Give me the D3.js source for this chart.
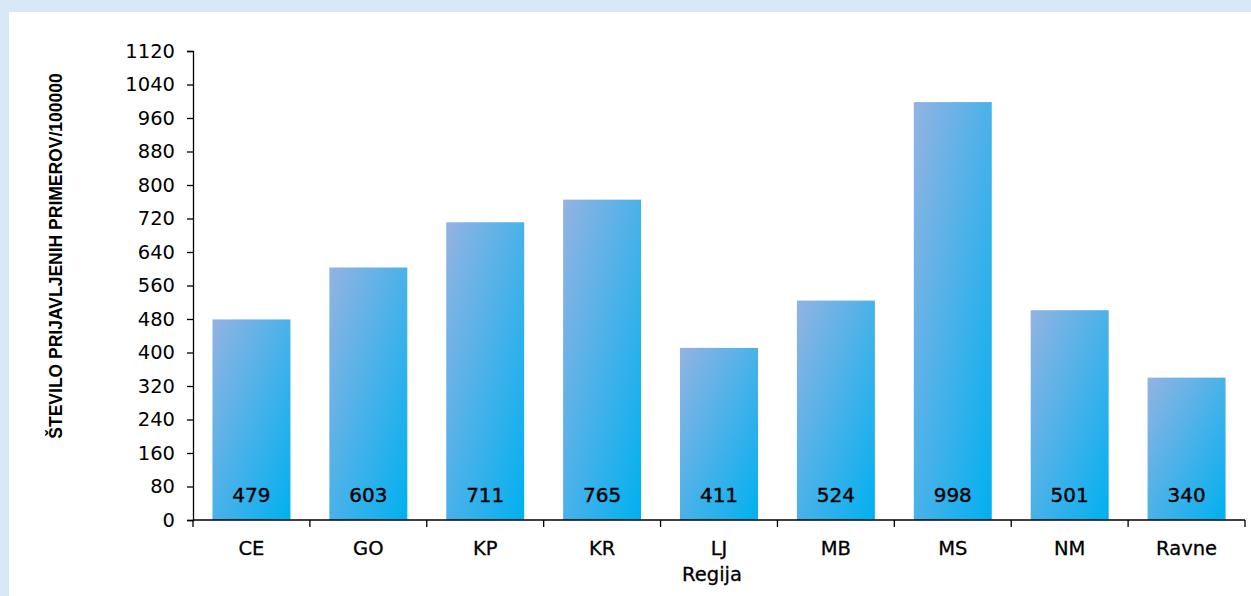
<!DOCTYPE html>
<html>
<head>
<meta charset="utf-8">
<script src="https://cdn.jsdelivr.net/npm/d3@7"></script>
<style>
  body { margin: 0; background: #d9e8f6; }
  svg { display: block; }
  .tick_label { font-family: Tahoma, "DejaVu Sans", sans-serif; font-size: 19.5px; fill: #000; }
  .val_label { font-family: Tahoma, "DejaVu Sans", sans-serif; font-size: 20px; fill: #000; stroke: #000; stroke-width: 0.4; }
</style>
</head>
<body>
<svg id="graph" width="1251" height="596"></svg>
<script>
let regions = ["CE", "GO", "KP", "KR", "LJ", "MB", "MS", "NM", "Ravne"];
let cases = [479, 603, 711, 765, 411, 524, 998, 501, 340];
let y_ticks = d3.range(0, 1121, 80);

let svg = d3.select("#graph");

let margin = {left: 193, right: 6, top: 51, bottom: 76};
let width = 1251, height = 596;

// light blue frame, white panel
svg.append("rect")
    .attr("x", 0).attr("y", 0)
    .attr("width", width).attr("height", height)
    .attr("fill", "#d9e8f6");
svg.append("rect")
    .attr("x", 9).attr("y", 12)
    .attr("width", width - 9).attr("height", height - 12)
    .attr("fill", "#fff");

let defs = svg.append("defs");
let grad = defs.append("linearGradient")
    .attr("id", "bar_grad")
    .attr("x1", "0").attr("y1", "0")
    .attr("x2", "1").attr("y2", "1");
grad.append("stop").attr("offset", "0%").attr("stop-color", "#93b3e2");
grad.append("stop").attr("offset", "100%").attr("stop-color", "#00b0f0");

let xScale = d3.scaleBand()
    .domain(regions)
    .range([margin.left, width - margin.right])
    .paddingInner(0.333)
    .paddingOuter(0.1665);

let yScale = d3.scaleLinear()
    .domain([0, 1120])
    .range([height - margin.bottom, margin.top]);

// bars
svg.append("g")
    .selectAll("rect")
    .data(cases)
    .enter()
    .append("rect")
    .attr("x", (d, i) => xScale(regions[i]))
    .attr("y", d => yScale(d))
    .attr("width", xScale.bandwidth())
    .attr("height", d => yScale(0) - yScale(d))
    .attr("fill", "url(#bar_grad)");

// value labels at the bar bottoms
svg.append("g")
    .selectAll("text")
    .data(cases)
    .enter()
    .append("text")
    .attr("class", "val_label")
    .attr("x", (d, i) => xScale(regions[i]) + xScale.bandwidth() / 2)
    .attr("y", yScale(0) - 18)
    .attr("text-anchor", "middle")
    .text(d => d);

// y axis
let y_axis = svg.append("g")
    .attr("transform", "translate(" + margin.left + ",0)")
    .call(d3.axisLeft(yScale).tickValues(y_ticks).tickFormat(d3.format("d")).tickSize(6).tickPadding(12));
y_axis.selectAll("text").attr("class", "tick_label").attr("font-family", null).attr("font-size", null);
y_axis.select(".domain").attr("stroke", "#000").attr("stroke-width", 1.3);
y_axis.selectAll(".tick line").attr("stroke", "#000").attr("stroke-width", 1.3);

// x axis with boundary ticks
let x_axis = svg.append("g")
    .attr("transform", "translate(0," + yScale(0) + ")");
x_axis.append("path")
    .attr("d", "M" + margin.left + ",0H" + (width - margin.right))
    .attr("stroke", "#000")
    .attr("stroke-width", 1.3);
let step = xScale.step();
let bounds = d3.range(regions.length + 1).map(i => margin.left + i * step);
x_axis.selectAll(".xtick")
    .data(bounds)
    .enter()
    .append("line")
    .attr("x1", d => d).attr("x2", d => d)
    .attr("y1", 0).attr("y2", 7)
    .attr("stroke", "#000")
    .attr("stroke-width", 1.3);
x_axis.selectAll(".xlabel")
    .data(regions)
    .enter()
    .append("text")
    .attr("class", "tick_label")
    .attr("x", d => xScale(d) + xScale.bandwidth() / 2)
    .attr("y", 35)
    .attr("text-anchor", "middle")
    .attr("stroke", "#000")
    .attr("stroke-width", 0.3)
    .text(d => d);

// axis titles
svg.append("text")
    .attr("class", "tick_label")
    .attr("x", (margin.left + width - margin.right) / 2 - 7)
    .attr("y", 581)
    .attr("text-anchor", "middle")
    .attr("stroke", "#000")
    .attr("stroke-width", 0.3)
    .text("Regija");

svg.append("text")
    .attr("transform", "translate(62,256) rotate(-90)")
    .attr("text-anchor", "middle")
    .attr("font-family", "'Liberation Sans', Arial, sans-serif")
    .attr("font-weight", "bold")
    .attr("font-size", 17.5)
    .text("ŠTEVILO PRIJAVLJENIH PRIMEROV/100000");
</script>
</body>
</html>
